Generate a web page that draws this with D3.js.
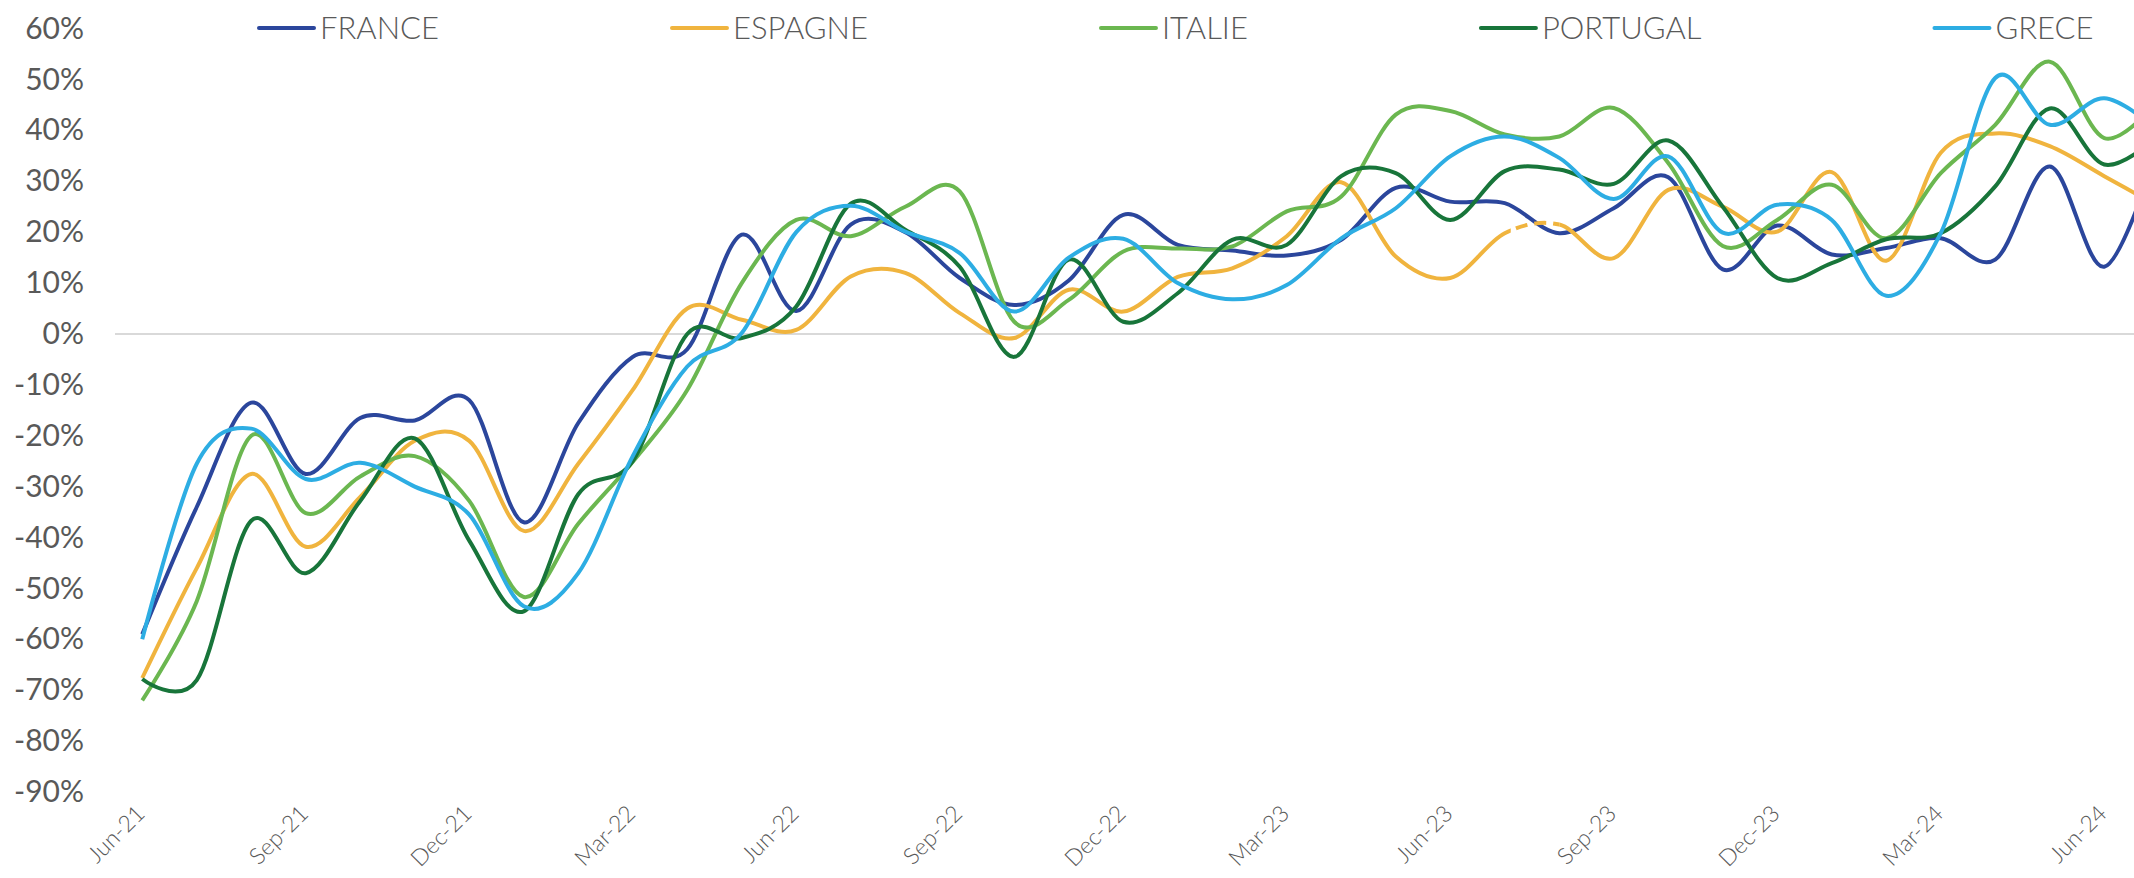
<!DOCTYPE html>
<html>
<head>
<meta charset="utf-8">
<script src="https://cdn.jsdelivr.net/npm/d3@7"></script>
<style>
  body { margin: 0; background: #fff; }
  text { font-family: Lato, "Open Sans", sans-serif; fill: #595959; }
</style>
</head>
<body>
<div id="chart"></div>
<script>
// categories (monthly)
var months = ["Jun-21","Jul-21","Aug-21","Sep-21","Oct-21","Nov-21","Dec-21",
  "Jan-22","Feb-22","Mar-22","Apr-22","May-22","Jun-22","Jul-22","Aug-22","Sep-22","Oct-22","Nov-22","Dec-22",
  "Jan-23","Feb-23","Mar-23","Apr-23","May-23","Jun-23","Jul-23","Aug-23","Sep-23","Oct-23","Nov-23","Dec-23",
  "Jan-24","Feb-24","Mar-24","Apr-24","May-24","Jun-24","Jul-24"];

// labelled months on the x axis
var xTickLabels = ["Jun-21","Sep-21","Dec-21","Mar-22","Jun-22","Sep-22","Dec-22",
  "Mar-23","Jun-23","Sep-23","Dec-23","Mar-24","Jun-24"];

// y axis ticks (%)
var yTicks = [60, 50, 40, 30, 20, 10, 0, -10, -20, -30, -40, -50, -60, -70, -80, -90];

// series values (%)
var france = [-59, -34, -13.5, -27.5, -16.5, -17, -13, -37, -17.5, -4.5, -3, 19.5, 4.5,
  21.5, 20, 11, 5.7, 10.5, 23.4, 17.5, 16.4, 15.4, 18.5, 28.7, 26, 25.7, 19.8, 24.7,
  30.8, 12.7, 21.3, 15.6, 16.9, 18.8, 14.6, 32.9, 13.2, 37];
var espagne = [-67.6, -46, -27.5, -41.8, -32, -21, -21, -38.7, -25.5, -11, 5, 2.8, 0.8,
  11.3, 12, 4.1, -0.8, 8.7, 4.4, 11.2, 12.9, 19.2, 29.8, 15.2, 11, 19.8, 21.5, 14.9,
  28.3, 25, 20.1, 31.8, 14.4, 35.6, 39.4, 36.9, 31, 25];
var italie = [-72, -52.5, -20, -35.2, -28, -24, -32.8, -51.7, -37.3, -25.1, -11, 10, 22.4,
  19.2, 25, 28, 2.4, 6.7, 16.2, 16.8, 17.2, 24.1, 27, 43.1, 43.8, 39.2, 38.8, 44.4,
  33.6, 17.3, 22.4, 29.3, 18.8, 31.6, 41.1, 53.5, 38.5, 46];
var portugal = [-67.8, -68, -36.7, -47, -32.8, -20.5, -40.6, -54.5, -31.5, -25, 0, -0.8, 5.4,
  25.6, 20.5, 13.2, -4.5, 14.6, 2.4, 8, 18.5, 17.5, 31, 31.6, 22.4, 32, 32.3, 29.5,
  38, 25, 11, 13.9, 18.6, 19.8, 29, 44.3, 33.3, 39];
var grece = [-60, -25.5, -18.6, -28.5, -25.3, -30, -35.5, -53.5, -47, -24, -6.4, 0.2, 20,
  25.2, 20.1, 15.9, 4.4, 15, 18.7, 10, 6.8, 9.6, 18.8, 24.7, 34.9, 38.8, 34.6, 26.5,
  34.9, 19.9, 25.4, 22.4, 7.5, 19.8, 50.3, 41.1, 46.3, 40];

var seriesNames = ["FRANCE", "ESPAGNE", "ITALIE", "PORTUGAL", "GRECE"];
var seriesValues = [france, espagne, italie, portugal, grece];
var seriesColors = ["#2b469c", "#f0b43e", "#6bb750", "#18753a", "#2dade3"];

// segment of ESPAGNE drawn dashed
var espagneDashed = ["Jul-23", "Aug-23"];

var svgWidth = 2134;
var svgHeight = 878;

// plot box
var plotLeft = 115;
var monthStep = 54.5;
var yTop = 28.6;
var yBottom = 792;

var svg = d3.select("#chart")
  .append("svg")
  .attr("width", svgWidth)
  .attr("height", svgHeight);

// scales
var x = d3.scalePoint()
  .domain(months)
  .range([plotLeft, plotLeft + monthStep * months.length])
  .padding(0.5);

var y = d3.scaleLinear()
  .domain([-90, 60])
  .range([yBottom, yTop]);

// y labels
var yAxis = d3.axisLeft(y)
  .tickValues(yTicks)
  .tickSize(0)
  .tickPadding(0)
  .tickFormat(d => d + "%");

svg.append("g")
  .attr("transform", "translate(84,0)")
  .call(yAxis)
  .call(g => g.select(".domain").remove())
  .selectAll("text")
  .attr("font-size", "30px")
  .attr("font-family", "Lato, sans-serif")
  .attr("fill", "#595959");

// zero line
svg.append("line")
  .attr("x1", plotLeft)
  .attr("x2", svgWidth)
  .attr("y1", y(0))
  .attr("y2", y(0))
  .attr("stroke", "#d9d9d9")
  .attr("stroke-width", 2);

// x labels, rotated
svg.append("g")
  .selectAll("text")
  .data(xTickLabels)
  .enter()
  .append("text")
  .attr("transform", d => `translate(${x(d) + 4}, 815) rotate(-45)`)
  .attr("text-anchor", "end")
  .attr("font-size", "23px")
  .attr("font-weight", 300)
  .text(d => d);

// clips for the dashed part of ESPAGNE
var defs = svg.append("defs");
var dashX0 = x(espagneDashed[0]) + 6;
var dashX1 = x(espagneDashed[1]);

var solidClip = defs.append("clipPath").attr("id", "solid-clip");
solidClip.append("rect")
  .attr("x", 0).attr("y", 0)
  .attr("width", dashX0).attr("height", svgHeight);
solidClip.append("rect")
  .attr("x", dashX1).attr("y", 0)
  .attr("width", svgWidth - dashX1).attr("height", svgHeight);

defs.append("clipPath").attr("id", "dash-clip")
  .append("rect")
  .attr("x", dashX0).attr("y", 0)
  .attr("width", dashX1 - dashX0).attr("height", svgHeight);

// lines
var line = d3.line()
  .x((d, i) => x(months[i]))
  .y(d => y(d))
  .curve(d3.curveCardinal.tension(0));

var lines = svg.append("g");

seriesValues.forEach(function(vals, k) {
  if (seriesNames[k] == "ESPAGNE") {
    lines.append("path")
      .attr("d", line(vals))
      .attr("fill", "none")
      .attr("stroke", seriesColors[k])
      .attr("stroke-width", 4)
      .attr("clip-path", "url(#solid-clip)");
    lines.append("path")
      .attr("d", line(vals))
      .attr("fill", "none")
      .attr("stroke", seriesColors[k])
      .attr("stroke-width", 4)
      .attr("stroke-dasharray", "12,7")
      .attr("clip-path", "url(#dash-clip)");
  } else {
    lines.append("path")
      .attr("d", line(vals))
      .attr("fill", "none")
      .attr("stroke", seriesColors[k])
      .attr("stroke-width", 4)
      .attr("stroke-linejoin", "round");
  }
});

// legend
var legend = svg.append("g");
var lx = 259;
seriesNames.forEach(function(name, k) {
  legend.append("line")
    .attr("x1", lx).attr("x2", lx + 55)
    .attr("y1", 28).attr("y2", 28)
    .attr("stroke", seriesColors[k])
    .attr("stroke-width", 4)
    .attr("stroke-linecap", "round");
  var t = legend.append("text")
    .attr("x", lx + 61)
    .attr("y", 28)
    .attr("dy", "0.36em")
    .attr("font-size", "31px")
    .attr("font-weight", 300)
    .text(name);
  lx = lx + 61 + t.node().getComputedTextLength() + 233;
});
</script>
</body>
</html>
